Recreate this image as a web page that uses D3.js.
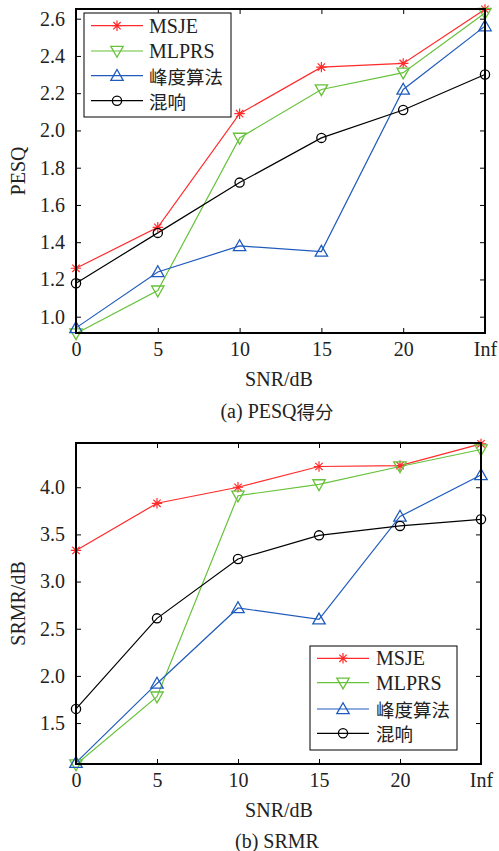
<!DOCTYPE html>
<html>
<head>
<meta charset="utf-8">
<script src="https://cdn.jsdelivr.net/npm/d3@7"></script>
<style>
  html, body { margin: 0; padding: 0; background: #fff; }
  svg { display: block; }
  text { font-family: "Liberation Serif", "Noto Sans CJK SC", serif; fill: #222; }
  tspan.cjk, text.cjk { font-family: "Noto Sans CJK SC", serif; font-size: 18.5px; }
</style>
</head>
<body>
<svg id="chart" width="499" height="851"></svg>
<script>
// SNR conditions on the x axis
const snrLabels = ["0", "5", "10", "15", "20", "Inf"];

// Method names and styles
const methods = ["MSJE", "MLPRS", "峰度算法", "混响"];
const colors = ["#ff2a2a", "#66c23a", "#1f5bbd", "#000000"];
const markers = ["star", "tridown", "triup", "circle"];

// PESQ scores (panel a)
const pesqMSJE  = [1.26, 1.48, 2.09, 2.34, 2.36, 2.65];
const pesqMLPRS = [0.91, 1.14, 1.96, 2.22, 2.31, 2.63];
const pesqPeak  = [0.94, 1.24, 1.38, 1.35, 2.22, 2.56];
const pesqReverb = [1.18, 1.45, 1.72, 1.96, 2.11, 2.30];
const pesqTicks = [1.0, 1.2, 1.4, 1.6, 1.8, 2.0, 2.2, 2.4, 2.6];

// SRMR values in dB (panel b)
const srmrMSJE  = [3.33, 3.83, 4.00, 4.22, 4.23, 4.46];
const srmrMLPRS = [1.06, 1.78, 3.91, 4.03, 4.22, 4.40];
const srmrPeak  = [1.08, 1.92, 2.72, 2.60, 3.69, 4.13];
const srmrReverb = [1.65, 2.61, 3.24, 3.49, 3.59, 3.66];
const srmrTicks = [1.5, 2.0, 2.5, 3.0, 3.5, 4.0];

const FS = 20;
const svg = d3.select("#chart");
const isCJK = s => /[\u3400-\u9fff]/.test(s);

// writes a label, switching to the CJK face for Chinese characters
function addLabel(sel, str) {
  const parts = str.match(/[\u3400-\u9fff]+|[^\u3400-\u9fff]+/g);
  parts.forEach(p => {
    const t = sel.append("tspan").text(p);
    if (isCJK(p)) t.attr("class", "cjk");
  });
  return sel;
}

function drawMarker(g, type, x, y, color) {
  if (type === "star") {
    const r = 5.2;
    const p = d3.path();
    for (let k = 0; k < 4; k++) {
      const a = k * Math.PI / 4;
      p.moveTo(x - r * Math.cos(a), y - r * Math.sin(a));
      p.lineTo(x + r * Math.cos(a), y + r * Math.sin(a));
    }
    g.append("path").attr("d", p.toString()).attr("stroke", color)
      .attr("stroke-width", 1.2).attr("fill", "none");
  } else if (type === "circle") {
    g.append("circle").attr("cx", x).attr("cy", y).attr("r", 4.6)
      .attr("stroke", color).attr("stroke-width", 1.3).attr("fill", "none");
  } else {
    const s = 6.2, up = type === "triup" ? 1 : -1;
    const pts = [[x, y - up * s], [x - s, y + up * s * 0.75], [x + s, y + up * s * 0.75]];
    g.append("path").attr("d", "M" + pts.map(p => p.join(",")).join("L") + "Z")
      .attr("stroke", color).attr("stroke-width", 1.3).attr("fill", "none");
  }
}

function drawPanel(cfg) {
  const { left, right, top, bottom, domain, ticks, fmt, series, ylabel, caption,
          xlabelY, captionY, legend } = cfg;
  const g = svg.append("g");
  const x = d3.scalePoint().domain(snrLabels).range([left, right]);
  const y = d3.scaleLinear().domain(domain).range([bottom, top]);

  const clipId = "clip" + Math.round(top);
  svg.append("clipPath").attr("id", clipId).append("rect")
    .attr("x", left - 8).attr("y", top - 8).attr("width", right - left + 16)
    .attr("height", bottom - top + 16);

  // series lines and markers
  const line = d3.line().x((d, i) => x(snrLabels[i])).y(d => y(d));
  const plot = g.append("g").attr("clip-path", `url(#${clipId})`);
  series.forEach((vals, si) => {
    plot.append("path").datum(vals).attr("d", line).attr("fill", "none")
      .attr("stroke", colors[si]).attr("stroke-width", 1.2);
  });
  series.forEach((vals, si) => {
    vals.forEach((v, i) => drawMarker(plot, markers[si], x(snrLabels[i]), y(v), colors[si]));
  });

  // axes: ticks inward on all four sides
  const tl = 5;
  const axB = d3.axisBottom(x).tickSize(-tl).tickPadding(9);
  const axT = d3.axisTop(x).tickSize(-tl).tickFormat("");
  const axL = d3.axisLeft(y).tickValues(ticks).tickSize(-tl).tickPadding(11).tickFormat(fmt);
  const axR = d3.axisRight(y).tickValues(ticks).tickSize(-tl).tickFormat("");
  [[axB, `translate(0,${bottom})`], [axT, `translate(0,${top})`],
   [axL, `translate(${left},0)`], [axR, `translate(${right},0)`]].forEach(([ax, tr]) => {
    const a = g.append("g").attr("transform", tr).call(ax);
    a.select(".domain").remove();
    a.selectAll(".tick line").attr("stroke", "#000").attr("stroke-width", 1);
    a.selectAll(".tick text").style("font-size", FS + "px")
      .style("font-family", "Liberation Serif, serif").attr("fill", "#222");
  });
  g.append("rect").attr("x", left).attr("y", top).attr("width", right - left)
    .attr("height", bottom - top).attr("fill", "none").attr("stroke", "#000")
    .attr("stroke-width", 2);

  // labels
  g.append("text").attr("transform", `translate(18,${(top + bottom) / 2}) rotate(-90)`)
    .attr("text-anchor", "middle").attr("dominant-baseline", "central")
    .style("font-size", FS + "px").text(ylabel);
  g.append("text").attr("x", 279).attr("y", xlabelY).attr("text-anchor", "middle")
    .attr("dominant-baseline", "central").style("font-size", FS + "px").text("SNR/dB");
  addLabel(g.append("text").attr("x", 277).attr("y", captionY)
    .attr("text-anchor", "middle").attr("dominant-baseline", "central")
    .style("font-size", FS + "px"), caption);

  // legend
  const lg = g.append("g");
  lg.append("rect").attr("x", legend.x0).attr("y", legend.y0)
    .attr("width", legend.x1 - legend.x0).attr("height", legend.y1 - legend.y0)
    .attr("fill", "#fff").attr("stroke", "#000").attr("stroke-width", 1);
  methods.forEach((m, i) => {
    const yy = legend.rows[i];
    lg.append("line").attr("x1", legend.lx0).attr("x2", legend.lx1)
      .attr("y1", yy).attr("y2", yy).attr("stroke", colors[i]).attr("stroke-width", 1.2);
    drawMarker(lg, markers[i], (legend.lx0 + legend.lx1) / 2, yy, colors[i]);
    addLabel(lg.append("text").attr("x", legend.tx).attr("y", yy)
      .attr("dominant-baseline", "central").style("font-size", FS + "px"), m);
  });
}

drawPanel({
  left: 76, right: 485, top: 9, bottom: 333,
  domain: [0.9125, 2.652], ticks: pesqTicks, fmt: d3.format(".1f"),
  series: [pesqMSJE, pesqMLPRS, pesqPeak, pesqReverb],
  ylabel: "PESQ", caption: "(a) PESQ得分", xlabelY: 379, captionY: 411,
  legend: { x0: 84, x1: 231, y0: 13, y1: 117, lx0: 91, lx1: 143, tx: 149,
            rows: [25.7, 51, 75.7, 100.7] }
});

drawPanel({
  left: 76, right: 481, top: 443, bottom: 764,
  domain: [1.066, 4.469], ticks: srmrTicks, fmt: d3.format(".1f"),
  series: [srmrMSJE, srmrMLPRS, srmrPeak, srmrReverb],
  ylabel: "SRMR/dB", caption: "(b) SRMR", xlabelY: 810, captionY: 841,
  legend: { x0: 310, x1: 457, y0: 646, y1: 750, lx0: 317, lx1: 369, tx: 376,
            rows: [658.3, 682.7, 709, 733.3] }
});
</script>
</body>
</html>
